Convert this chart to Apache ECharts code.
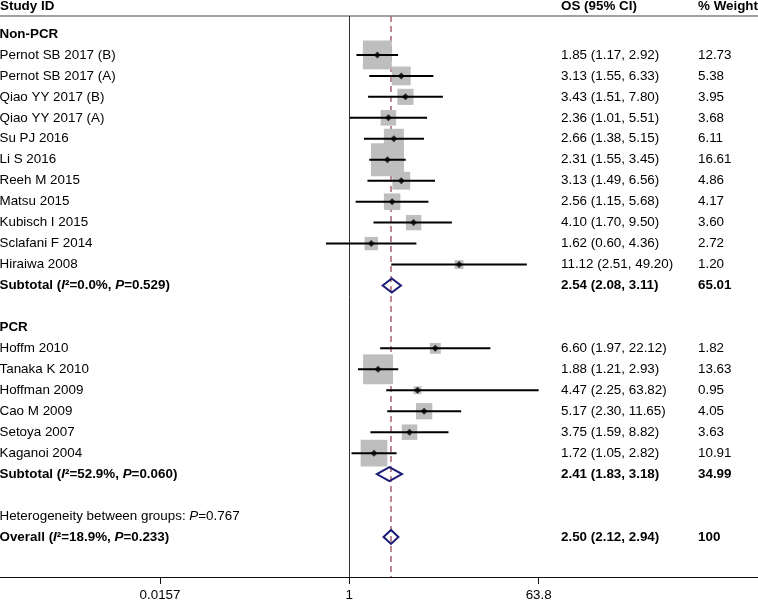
<!DOCTYPE html>
<html><head><meta charset="utf-8">
<script src="https://cdn.jsdelivr.net/npm/echarts@6/dist/echarts.min.js"></script>
<style>html,body{margin:0;padding:0;background:#fff}#c{width:758px;height:602px}</style>
</head><body><div id="c"></div>
<script>
// ---------- data ----------
const studyNames = ['Pernot SB 2017 (B)','Pernot SB 2017 (A)','Qiao YY 2017 (B)','Qiao YY 2017 (A)','Su PJ 2016','Li S 2016','Reeh M 2015','Matsu 2015','Kubisch I 2015','Sclafani F 2014','Hiraiwa 2008','Hoffm 2010','Tanaka K 2010','Hoffman 2009','Cao M 2009','Setoya 2007','Kaganoi 2004'];
const studyRows = [1,2,3,4,5,6,7,8,9,10,11,15,16,17,18,19,20];
const studyEst  = [1.85,3.13,3.43,2.36,2.66,2.31,3.13,2.56,4.10,1.62,11.12,6.60,1.88,4.47,5.17,3.75,1.72];
const studyLow  = [1.17,1.55,1.51,1.01,1.38,1.55,1.49,1.15,1.70,0.60,2.51,1.97,1.21,2.25,2.30,1.59,1.05];
const studyHigh = [2.92,6.33,7.80,5.51,5.15,3.45,6.56,5.68,9.50,4.36,49.20,22.12,2.93,63.82,11.65,8.82,2.82];
const studyWeight = [12.73,5.38,3.95,3.68,6.11,16.61,4.86,4.17,3.60,2.72,1.20,1.82,13.63,0.95,4.05,3.63,10.91];

const groupNames = ['Non-PCR','PCR'];
const groupRows = [0,14];

const pooledNames = ['Subtotal (I²=0.0%, P=0.529)','Subtotal (I²=52.9%, P=0.060)','Overall (I²=18.9%, P=0.233)'];
const pooledRows = [12,21,24];
const pooledEst  = [2.54,2.41,2.50];
const pooledLow  = [2.08,1.83,2.12];
const pooledHigh = [3.11,3.18,2.94];
const pooledWeight = ['65.01','34.99','100'];

const hetText = 'Heterogeneity between groups: P=0.767';
const hetRow = 23;

const headerLabels = ['Study ID','OS (95% CI)','% Weight'];
const tickValues = [0.0157, 1, 63.8];
const tickLabels = ['0.0157','1','63.8'];

// ---------- layout ----------
const FONT = 'Liberation Sans';
const FS = 13.4;
const ln = Math.log;
const xMin = -7.665, xMax = 8.969;
const yMin = -0.859, yMax = 25.91;
const COL_OS = 561, COL_W = 698;

const rich = {
  n:  {fontFamily: FONT, fontSize: FS, color: '#000'},
  i:  {fontFamily: FONT, fontSize: FS, color: '#000', fontStyle: 'italic'},
  b:  {fontFamily: FONT, fontSize: FS, color: '#000', fontWeight: 'bold'},
  bi: {fontFamily: FONT, fontSize: FS, color: '#000', fontWeight: 'bold', fontStyle: 'italic'}
};

function fmtCI(e, l, h) { return e.toFixed(2) + ' (' + l.toFixed(2) + ', ' + h.toFixed(2) + ')'; }
function boldStat(s) {
  return '{b|' + s.replace('I²', '}{bi|I}{b|²').replace('P=', '}{bi|P}{b|=') + '}';
}

const nameMap = {}, osMap = {}, wMap = {};
groupRows.forEach((r, i) => { nameMap[r] = '{b|' + groupNames[i] + '}'; });
studyRows.forEach((r, i) => {
  nameMap[r] = '{n|' + studyNames[i] + '}';
  osMap[r] = '{n|' + fmtCI(studyEst[i], studyLow[i], studyHigh[i]) + '}';
  wMap[r] = '{n|' + studyWeight[i].toFixed(2) + '}';
});
pooledRows.forEach((r, i) => {
  nameMap[r] = boldStat(pooledNames[i]);
  osMap[r] = '{b|' + fmtCI(pooledEst[i], pooledLow[i], pooledHigh[i]) + '}';
  wMap[r] = '{b|' + pooledWeight[i] + '}';
});
nameMap[hetRow] = '{n|' + hetText.replace('P=', '}{i|P}{n|=') + '}';

function yAxisCol(offset, map) {
  return {
    type: 'value', inverse: true, min: yMin, max: yMax, position: 'left', offset: offset,
    axisLine: {show: false, onZero: false}, axisTick: {show: false}, splitLine: {show: false},
    axisLabel: {
      inside: true, margin: 0, align: 'left', showMinLabel: true, showMaxLabel: true,
      customValues: Object.keys(map).map(Number),
      formatter: v => map[Math.round(v)] || '', rich: rich
    }
  };
}

const chart = echarts.init(document.getElementById('c'), null, {renderer: 'canvas'});
chart.setOption({
  animation: false,
  textStyle: {fontFamily: FONT},
  grid: {left: 0, right: 0, top: 16, bottom: 25, containLabel: false, outerBoundsMode: 'none'},
  xAxis: [{
    type: 'value', min: xMin, max: xMax, position: 'bottom',
    axisLine: {onZero: false, lineStyle: {color: '#111', width: 1}},
    splitLine: {show: false},
    axisTick: {customValues: tickValues.map(ln), length: 7, lineStyle: {color: '#111'}},
    axisLabel: {
      customValues: tickValues.map(ln), margin: 12, fontSize: FS, color: '#000', fontFamily: FONT,
      formatter: v => {
        let best = 0;
        tickValues.forEach((t, i) => { if (Math.abs(ln(t) - v) < Math.abs(ln(tickValues[best]) - v)) best = i; });
        return tickLabels[best];
      }
    }
  }, {
    type: 'value', min: xMin, max: xMax, position: 'top',
    axisLine: {onZero: false, lineStyle: {color: '#a0a0a0', width: 2}},
    axisTick: {show: false}, axisLabel: {show: false}, splitLine: {show: false}
  }],
  yAxis: [yAxisCol(0.5, nameMap), yAxisCol(-COL_OS, osMap), yAxisCol(-COL_W, wMap)],
  graphic: [
    {type: 'text', x: 0, y: 6, style: {text: headerLabels[0], font: 'bold ' + FS + 'px ' + FONT, fill: '#000', textVerticalAlign: 'middle'}},
    {type: 'text', x: COL_OS, y: 6, style: {text: headerLabels[1], font: 'bold ' + FS + 'px ' + FONT, fill: '#000', textVerticalAlign: 'middle'}},
    {type: 'text', x: COL_W, y: 6, style: {text: headerLabels[2], font: 'bold ' + FS + 'px ' + FONT, fill: '#000', textVerticalAlign: 'middle'}}
  ],
  series: [
    {
      type: 'scatter', name: 'weight', z: 2, silent: true,
      symbol: 'rect',
      symbolSize: v => 8.1 * Math.sqrt(v[2]),
      itemStyle: {color: '#bebebe', opacity: 1},
      data: studyRows.map((r, i) => [ln(studyEst[i]), r, studyWeight[i]]),
      markLine: {
        silent: true, symbol: 'none', z: 1, label: {show: false},
        data: [
          {xAxis: 0, lineStyle: {color: '#333', type: 'solid', width: 1}},
          {xAxis: ln(pooledEst[2]), lineStyle: {color: '#a86470', type: [6, 4], width: 1.5}}
        ]
      }
    },
    {
      type: 'custom', name: 'ci', z: 3, silent: true,
      encode: {x: [0, 1], y: 2},
      data: studyRows.map((r, i) => [ln(studyLow[i]), ln(studyHigh[i]), r]),
      renderItem: (params, api) => {
        const p1 = api.coord([api.value(0), api.value(2)]);
        const p2 = api.coord([api.value(1), api.value(2)]);
        return {type: 'line', shape: {x1: p1[0], y1: p1[1], x2: p2[0], y2: p2[1]},
                style: {stroke: '#000', lineWidth: 2}};
      }
    },
    {
      type: 'scatter', name: 'est', z: 4, silent: true,
      symbol: 'diamond', symbolSize: 7,
      itemStyle: {color: '#000'},
      data: studyRows.map((r, i) => [ln(studyEst[i]), r])
    },
    {
      type: 'custom', name: 'pooled', z: 5, silent: true,
      encode: {x: [0, 1, 2], y: 3},
      data: pooledRows.map((r, i) => [ln(pooledLow[i]), ln(pooledEst[i]), ln(pooledHigh[i]), r]),
      renderItem: (params, api) => {
        const y = api.value(3);
        const a = api.coord([api.value(0), y]);
        const m = api.coord([api.value(1), y]);
        const b = api.coord([api.value(2), y]);
        return {type: 'polygon',
                shape: {points: [[a[0], a[1]], [m[0], m[1] - 7], [b[0], b[1]], [m[0], m[1] + 7]]},
                style: {stroke: '#1c1c78', lineWidth: 2, fill: 'none'}};
      }
    }
  ]
});
</script>
</body></html>
